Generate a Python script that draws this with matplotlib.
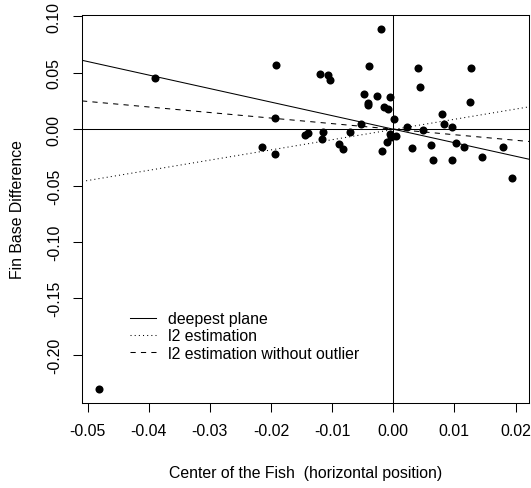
import numpy as np
import matplotlib
matplotlib.use("Agg")
import matplotlib.pyplot as plt

# fish data
center_x = [-0.0389, -0.0192, -0.0194, -0.0214, -0.0194, -0.0120, -0.0107, -0.0104,
            -0.0145, -0.0140, -0.0115, -0.0116, -0.0089, -0.0082, -0.0071, -0.0052,
            -0.0039, -0.0048, -0.0042, -0.0041, -0.0026, -0.0020, -0.0015, -0.0009,
            -0.0005, 0.0002, -0.0005, -0.0003, 0.0004, -0.0011, -0.0019, 0.0023,
            0.0040, 0.0043, 0.0049, 0.0030, 0.0061, 0.0065, 0.0079, 0.0083,
            0.0096, 0.0096, 0.0102, 0.0116, 0.0128, 0.0126, 0.0146, 0.0179,
            0.0195, -0.0482]
fin_diff = [0.0451, 0.0569, 0.0100, -0.0157, -0.0218, 0.0487, 0.0478, 0.0440,
            -0.0056, -0.0033, -0.0024, -0.0083, -0.0133, -0.0180, -0.0027, 0.0044,
            0.0563, 0.0313, 0.0230, 0.0212, 0.0298, 0.0885, 0.0197, 0.0183,
            0.0283, 0.0091, -0.0040, -0.0072, -0.0060, -0.0112, -0.0195, 0.0018,
            0.0540, 0.0375, -0.0006, -0.0168, -0.0139, -0.0271, 0.0133, 0.0050,
            0.0021, -0.0277, -0.0124, -0.0159, 0.0540, 0.0239, -0.0245, -0.0157,
            -0.0437, -0.2301]

# fitted lines (intercept, slope)
fit_names = ["deepest plane", "l2 estimation", "l2 estimation without outlier"]
fit_intercepts = [0.0, -0.0003, 0.0]
fit_slopes = [-1.20, 0.905, -0.492]
fit_styles = ["-", ":", "--"]

x_ticks = [-0.05, -0.04, -0.03, -0.02, -0.01, 0.00, 0.01, 0.02]
y_ticks = [-0.20, -0.15, -0.10, -0.05, 0.00, 0.05, 0.10]

plt.rcParams['font.family'] = ['Liberation Sans', 'DejaVu Sans']
fs = 11.4

fig = plt.figure(figsize=(5.31, 4.89), dpi=100)
ax = fig.add_axes([82/531, 85/489, 447/531, 388/489])

ax.scatter(center_x, fin_diff, s=5.8**2, color='black', zorder=3, linewidths=0)

# reference lines through zero
ax.axhline(0, color='black', lw=0.75)
ax.axvline(0, color='black', lw=0.75)

for name, b, m, ls in zip(fit_names, fit_intercepts, fit_slopes, fit_styles):
    if ls == ":":
        ax.axline((0, b), slope=m, color='black', lw=0.75, linestyle=(0, (1, 3)), label=name)
    elif ls == "--":
        ax.axline((0, b), slope=m, color='black', lw=0.75, linestyle=(0, (5, 5)), label=name)
    else:
        ax.axline((0, b), slope=m, color='black', lw=0.75, label=name)

# R style 4% padding
xr = max(center_x) - min(center_x)
yr = max(fin_diff) - min(fin_diff)
ax.set_xlim(min(center_x) - 0.04*xr, max(center_x) + 0.04*xr)
ax.set_ylim(min(fin_diff) - 0.04*yr, max(fin_diff) + 0.04*yr)

ax.set_xticks(x_ticks)
ax.set_xticklabels(["%.2f" % t for t in x_ticks])
ax.set_yticks(y_ticks)
ax.set_yticklabels(["%.2f" % t for t in y_ticks], rotation=90, va='center')
ax.tick_params(direction='out', length=6.5, width=0.75, labelsize=fs, pad=8)
for sp in ax.spines.values():
    sp.set_linewidth(0.75)

ax.set_xlabel("Center of the Fish  (horizontal position)", fontsize=fs, labelpad=19.5)
ax.set_ylabel("Fin Base Difference", fontsize=fs, labelpad=16)

ax.legend(loc='upper left', bbox_to_anchor=(0.107, 0.237), frameon=False, fontsize=fs,
          handlelength=1.65, handletextpad=0.75, labelspacing=0.15,
          borderpad=0, borderaxespad=0)

fig.savefig("out.png", dpi=100)
